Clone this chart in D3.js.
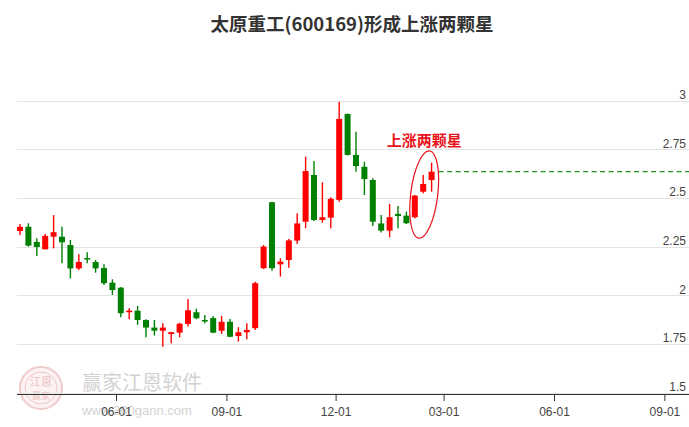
<!DOCTYPE html>
<html>
<head>
<meta charset="utf-8">
<script src="https://cdn.jsdelivr.net/npm/d3@7/dist/d3.min.js"></script>
<style>
html,body{margin:0;padding:0;background:#fff;}
svg{display:block;}
</style>
</head>
<body>
<div id="chart"></div>
<script>
// ---- data (weekly candles) ----
const dates = ["2020-03-13","2020-03-20","2020-03-27","2020-04-03","2020-04-10","2020-04-17","2020-04-24","2020-05-01","2020-05-08","2020-05-15","2020-05-22","2020-05-29","2020-06-05","2020-06-12","2020-06-19","2020-06-26","2020-07-03","2020-07-10","2020-07-17","2020-07-24","2020-07-31","2020-08-07","2020-08-14","2020-08-21","2020-08-28","2020-09-04","2020-09-11","2020-09-18","2020-09-25","2020-10-02","2020-10-09","2020-10-16","2020-10-23","2020-10-30","2020-11-06","2020-11-13","2020-11-20","2020-11-27","2020-12-04","2020-12-11","2020-12-18","2020-12-25","2021-01-01","2021-01-08","2021-01-15","2021-01-22","2021-01-29","2021-02-05","2021-02-12","2021-02-19"];
const open  = [2.332,2.354,2.276,2.238,2.303,2.303,2.260,2.140,2.193,2.173,2.142,2.067,2.041,1.915,1.923,1.875,1.836,1.820,1.803,1.810,1.855,1.915,1.875,1.885,1.820,1.866,1.793,1.812,1.833,2.141,2.480,2.161,2.183,2.283,2.380,2.620,2.389,2.401,2.492,2.933,2.723,2.662,2.594,2.371,2.334,2.420,2.411,2.403,2.534,2.594];
const high  = [2.368,2.372,2.295,2.317,2.414,2.354,2.286,2.213,2.223,2.183,2.161,2.084,2.045,1.935,1.947,1.879,1.875,1.858,1.814,1.861,1.983,1.933,1.901,1.896,1.896,1.880,1.838,1.858,2.072,2.260,2.483,2.192,2.291,2.423,2.714,2.692,2.582,2.505,2.996,2.936,2.842,2.688,2.603,2.414,2.471,2.461,2.432,2.517,2.620,2.683];
const low   = [2.312,2.252,2.204,2.238,2.243,2.166,2.089,2.132,2.166,2.118,2.055,2.004,1.889,1.879,1.850,1.786,1.795,1.738,1.755,1.786,1.841,1.879,1.858,1.807,1.803,1.786,1.764,1.776,1.824,2.137,2.128,2.098,2.144,2.265,2.346,2.384,2.375,2.346,2.483,2.720,2.637,2.517,2.358,2.324,2.300,2.346,2.368,2.397,2.526,2.534];
const close = [2.354,2.257,2.250,2.307,2.326,2.274,2.140,2.173,2.187,2.140,2.064,2.029,1.910,1.923,1.875,1.836,1.820,1.836,1.812,1.856,1.925,1.884,1.868,1.810,1.866,1.789,1.812,1.824,2.064,2.252,2.141,2.175,2.284,2.371,2.640,2.389,2.403,2.497,2.908,2.723,2.666,2.599,2.380,2.334,2.403,2.409,2.372,2.514,2.574,2.637];
const yTicks = [1.5,1.75,2,2.25,2.5,2.75,3];
const xTickDates = ["2020-06-01","2020-09-01","2020-12-01","2021-03-01","2021-06-01","2021-09-01"];
const xTickLabels = ["06-01","09-01","12-01","03-01","06-01","09-01"];
const title = "太原重工(600169)形成上涨两颗星";
const annotation = "上涨两颗星";

// ---- layout ----
const W = 689, H = 427;
const parse = d3.timeParse("%Y-%m-%d");
const UP = "#ff0000", DOWN = "#008000";

const svg = d3.select("#chart").append("svg").attr("width", W).attr("height", H);
svg.append("rect").attr("width", W).attr("height", H).attr("fill", "#fff");

const x = d3.scaleTime()
  .domain([parse(xTickDates[0]), parse(xTickDates[5])])
  .range([116, 664.4]);
const y = d3.scaleLinear().domain([1.5, 3]).range([393, 101]);

// watermark
const wm = svg.append("g").attr("opacity", 0.6);
wm.append("circle").attr("cx", 41).attr("cy", 388).attr("r", 21)
  .attr("fill", "#fbeaea").attr("stroke", "#e6a9a9").attr("stroke-width", 2);
wm.append("circle").attr("cx", 41).attr("cy", 388).attr("r", 16)
  .attr("fill", "none").attr("stroke", "#e6a9a9").attr("stroke-width", 1);
wm.append("text").attr("x", 41).attr("y", 386).attr("text-anchor", "middle")
  .attr("font-family", "Noto Sans CJK SC").attr("font-size", 11).attr("fill", "#de9a9a").text("江恩");
wm.append("text").attr("x", 41).attr("y", 399).attr("text-anchor", "middle")
  .attr("font-family", "Noto Sans CJK SC").attr("font-size", 9).attr("fill", "#de9a9a").text("赢家");
wm.append("text").attr("x", 82).attr("y", 390)
  .attr("font-family", "Noto Sans CJK SC").attr("font-size", 20).attr("fill", "#b5b5b5").text("赢家江恩软件");
wm.append("text").attr("x", 82).attr("y", 415)
  .attr("font-family", "Liberation Sans, Arial").attr("font-size", 13).attr("fill", "#b5b5b5").text("www.360gann.com");

// gridlines + y labels
const grid = svg.append("g");
grid.selectAll("line").data(yTicks).join("line")
  .attr("x1", 17).attr("x2", W).attr("y1", d => y(d)).attr("y2", d => y(d))
  .attr("stroke", "#e3e3e3").attr("stroke-width", 1).attr("shape-rendering", "crispEdges");
grid.selectAll("text").data(yTicks).join("text")
  .attr("x", 686).attr("y", d => y(d) - 2).attr("text-anchor", "end")
  .attr("font-family", "Liberation Sans, Arial, sans-serif").attr("font-size", 12)
  .attr("fill", "#444").text(d => d3.format("")(d));

// x axis
const xAxis = d3.axisBottom(x)
  .tickValues(xTickDates.map(parse))
  .tickFormat((d, i) => xTickLabels[i])
  .tickSize(7).tickSizeOuter(0);
const ax = svg.append("g").attr("transform", "translate(0,394)").call(xAxis);
ax.select(".domain").attr("d", `M17,0.5H${W}`).attr("stroke", "#333");
ax.selectAll(".tick line").attr("stroke", "#333");
ax.selectAll(".tick text").attr("font-family", "Liberation Sans, Arial, sans-serif")
  .attr("font-size", 12).attr("fill", "#444").attr("dy", "1em");

// candles
const candles = dates.map((d, i) => ({ date: parse(d), o: open[i], h: high[i], l: low[i], c: close[i] }));
const bw = 6;
const cg = svg.append("g");
cg.selectAll("line.wick").data(candles).join("line").attr("class", "wick")
  .attr("x1", d => x(d.date)).attr("x2", d => x(d.date))
  .attr("y1", d => y(d.h)).attr("y2", d => y(d.l))
  .attr("stroke", d => d.c >= d.o ? UP : DOWN).attr("stroke-width", 1.4);
cg.selectAll("rect.body").data(candles).join("rect").attr("class", "body")
  .attr("x", d => x(d.date) - bw / 2).attr("width", bw)
  .attr("y", d => y(Math.max(d.o, d.c)))
  .attr("height", d => Math.max(1.5, Math.abs(y(d.o) - y(d.c))))
  .attr("fill", d => d.c >= d.o ? UP : DOWN);

// dashed line at last close
const last = candles[candles.length - 1];
svg.append("line")
  .attr("x1", x(last.date) + 7).attr("x2", W)
  .attr("y1", y(last.c)).attr("y2", y(last.c))
  .attr("stroke", "#1f8f1f").attr("stroke-width", 1.2).attr("stroke-dasharray", "5,3.5");

// ellipse around the two stars
const ex = x(candles[48].date) + 1;
const ey = y((candles[49].h + candles[47].l) / 2) + 4;
svg.append("ellipse")
  .attr("cx", ex).attr("cy", ey).attr("rx", 13.5).attr("ry", 44)
  .attr("transform", `rotate(7,${ex},${ey})`)
  .attr("fill", "none").attr("stroke", "#e8141b").attr("stroke-width", 1.2);
svg.append("text").attr("x", ex).attr("y", 146).attr("text-anchor", "middle")
  .attr("font-family", "Noto Sans CJK SC").attr("font-weight", "bold")
  .attr("font-size", 15).attr("fill", "#e8141b").text(annotation);

// title
svg.append("text").attr("x", 352).attr("y", 31).attr("text-anchor", "middle")
  .attr("font-family", "Noto Sans CJK SC").attr("font-weight", "bold")
  .attr("font-size", 18.5).attr("fill", "#333").text(title);
</script>
</body>
</html>
